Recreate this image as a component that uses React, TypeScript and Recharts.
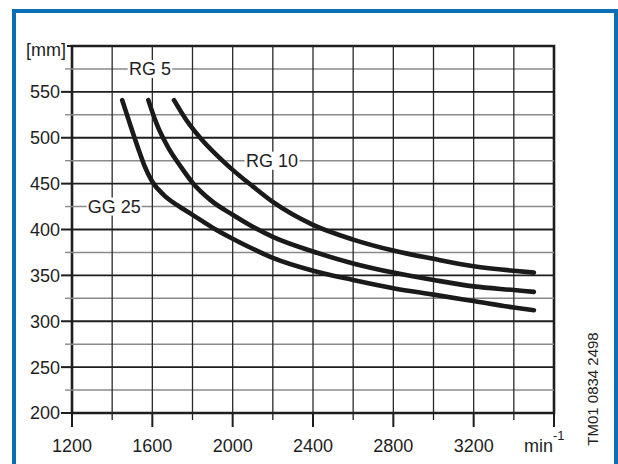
import React from 'react';
import {
  LineChart,
  Line,
  XAxis,
  YAxis,
  ReferenceLine,
  ReferenceArea,
  ReferenceDot,
} from 'recharts';

// curve samples: speed [min-1] -> diameter [mm]
const gg25Rpm = [1450, 1490, 1530, 1560, 1600, 1660, 1720, 1800, 1900, 2000, 2100, 2200, 2400, 2600, 2800, 3000, 3200, 3400, 3500];
const gg25Mm = [541, 514, 488, 470, 452, 437, 427, 416, 402, 390, 379, 369, 355, 345, 336, 329, 322, 315, 312];

const rg5Rpm = [1580, 1620, 1680, 1740, 1800, 1890, 2000, 2100, 2200, 2400, 2600, 2800, 3000, 3200, 3400, 3500];
const rg5Mm = [541, 516, 489, 469, 451, 432, 416, 403, 392, 376, 363, 353, 345, 338, 334, 332];

const rg10Rpm = [1708, 1770, 1850, 1940, 2000, 2100, 2200, 2400, 2600, 2800, 3000, 3200, 3400, 3500];
const rg10Mm = [541, 519, 497, 477, 465, 447, 430, 405, 389, 377, 368, 360, 355, 353];

const xTicks = [1200, 1400, 1600, 1800, 2000, 2200, 2400, 2600, 2800, 3000, 3200, 3400, 3600];
const xLabels = [1200, 1600, 2000, 2400, 2800, 3200];
const yTicks = [200, 225, 250, 275, 300, 325, 350, 375, 400, 425, 450, 475, 500, 525, 550, 575, 600];
const yLabels = [200, 250, 300, 350, 400, 450, 500, 550];
const yMajorGrid = [250, 300, 350, 400, 450, 500, 550];
const yMinorGrid = [225, 275, 325, 375, 425, 475, 525, 575];
const xGrid = [1400, 1600, 1800, 2000, 2200, 2400, 2600, 2800, 3000, 3200, 3400];

const curveLabels = [
  { text: 'RG 5', x: 1588, y: 575 },
  { text: 'RG 10', x: 2196, y: 475 },
  { text: 'GG 25', x: 1410, y: 425 },
];

const toPoints = (xs: number[], ys: number[]) => xs.map((x, i) => ({ x, y: ys[i] }));

const FONT = '"Liberation Sans", Arial, sans-serif';
const INK = '#1e1e1e';

const XTick = (props: any) => {
  const { x, y, payload } = props;
  const v = payload.value;
  const major = (v - 1200) % 400 === 0;
  return (
    <g>
      <line x1={x} x2={x} y1={y} y2={y + (major ? 14 : 7)} stroke={INK} strokeWidth={major ? 2 : 1.3} />
      {xLabels.includes(v) && (
        <text x={x} y={y + 39} textAnchor="middle" fontSize={18} fill={INK} fontFamily={FONT}>
          {v}
        </text>
      )}
      {v === 3600 && (
        <text x={x - 1} y={y + 39} textAnchor="end" fontSize={18} fill={INK} fontFamily={FONT}>
          min
        </text>
      )}
      {v === 3600 && (
        <text x={x - 1} y={y + 27} textAnchor="start" fontSize={13} fill={INK} fontFamily={FONT}>
          -1
        </text>
      )}
    </g>
  );
};

const YTick = (props: any) => {
  const { x, y, payload } = props;
  const v = payload.value;
  const major = v % 50 === 0;
  const len = v === 600 ? 5 : major ? 11 : 7;
  return (
    <g>
      <line x1={x - len} x2={x} y1={y} y2={y} stroke={major ? INK : '#8a8a8a'} strokeWidth={major ? 2 : 1.4} />
      {yLabels.includes(v) && (
        <text x={x - 12} y={y} dy="0.36em" textAnchor="end" fontSize={18} fill={INK} fontFamily={FONT}>
          {v}
        </text>
      )}
      {v === 600 && (
        <text x={x - 6} y={y + 4} dy="0.36em" textAnchor="end" fontSize={18} fill={INK} fontFamily={FONT}>
          [mm]
        </text>
      )}
    </g>
  );
};

const CurveLabel = (text: string) => (p: any) => {
  const w = text.length * 10.6 + 2;
  return (
    <g>
      <rect x={p.cx - w / 2} y={p.cy - 9} width={w} height={18} fill="#fff" />
      <text x={p.cx} y={p.cy} dy="0.36em" textAnchor="middle" fontSize={18} fill={INK} fontFamily={FONT}>
        {text}
      </text>
    </g>
  );
};

export default function App() {
  return (
    <div style={{ position: 'absolute', left: 0, top: 0, width: 618, height: 464, overflow: 'hidden', background: '#fff' }}>
      <div
        style={{
          position: 'absolute',
          left: 12,
          top: 9,
          width: 598,
          height: 520,
          border: '4px solid #0a6fb7',
        }}
      />
      <div style={{ position: 'absolute', left: 0, top: 0 }}>
        <LineChart width={618} height={464} margin={{ top: 46, right: 64, bottom: 21, left: 12 }}>
          <XAxis
            type="number"
            dataKey="x"
            domain={[1200, 3600]}
            ticks={xTicks}
            interval={0}
            tickSize={0}
            tickMargin={0}
            tickLine={false}
            axisLine={false}
            height={30}
            tick={<XTick />}
            allowDataOverflow
          />
          <YAxis
            type="number"
            dataKey="y"
            domain={[200, 600]}
            ticks={yTicks}
            interval={0}
            tickSize={0}
            tickMargin={0}
            tickLine={false}
            axisLine={false}
            width={60}
            tick={<YTick />}
            allowDataOverflow
          />
          {yMinorGrid.map((v) => (
            <ReferenceLine key={`ym${v}`} y={v} stroke="#8a8a8a" strokeWidth={1.4} />
          ))}
          {xGrid.map((v) => (
            <ReferenceLine key={`x${v}`} x={v} stroke="#2a2a2a" strokeWidth={1.3} />
          ))}
          {yMajorGrid.map((v) => (
            <ReferenceLine key={`yM${v}`} y={v} stroke={INK} strokeWidth={1.9} />
          ))}
          <ReferenceArea x1={1200} x2={3600} y1={200} y2={600} fill="none" stroke={INK} strokeWidth={2.6} ifOverflow="visible" />
          <Line data={toPoints(gg25Rpm, gg25Mm)} dataKey="y" type="monotone" stroke="#1a1a1a" strokeWidth={4.6} strokeLinecap="round" dot={false} isAnimationActive={false} />
          <Line data={toPoints(rg5Rpm, rg5Mm)} dataKey="y" type="monotone" stroke="#1a1a1a" strokeWidth={4.6} strokeLinecap="round" dot={false} isAnimationActive={false} />
          <Line data={toPoints(rg10Rpm, rg10Mm)} dataKey="y" type="monotone" stroke="#1a1a1a" strokeWidth={4.6} strokeLinecap="round" dot={false} isAnimationActive={false} />
          {curveLabels.map((l) => (
            <ReferenceDot key={l.text} x={l.x} y={l.y} r={0} shape={CurveLabel(l.text)} ifOverflow="visible" />
          ))}
        </LineChart>
      </div>
      <div
        style={{
          position: 'absolute',
          left: 592,
          top: 389,
          transform: 'translate(-50%, -50%) rotate(-90deg)',
          whiteSpace: 'nowrap',
          fontFamily: FONT,
          fontSize: 15,
          color: INK,
        }}
      >
        TM01 0834 2498
      </div>
    </div>
  );
}
